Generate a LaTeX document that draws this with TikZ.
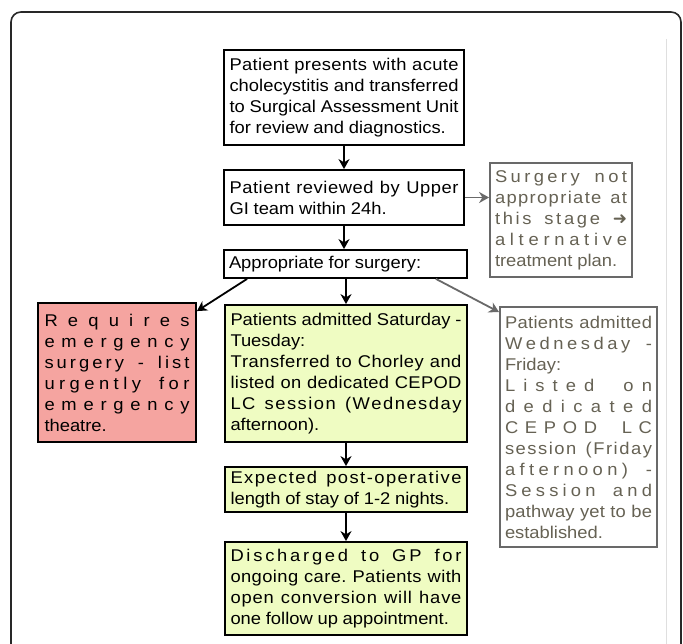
\documentclass[tikz,border=0pt]{standalone}
\usepackage{fontspec}
\setmainfont{Liberation Sans}[FakeStretch=1.08]
\newfontfamily\dejavu{DejaVu Sans}
\usetikzlibrary{arrows.meta,calc}
\definecolor{redfill}{RGB}{245,164,160}
\definecolor{greenfill}{RGB}{239,252,194}
\definecolor{greyline}{RGB}{105,105,105}
\definecolor{greytext}{RGB}{102,98,84}
\definecolor{frameline}{RGB}{40,40,40}
\newcommand{\rarr}{{\dejavu ➜}}
\makeatletter
\def\lsword#1{\let\ls@first\relax\@tfor\ls@c:=#1\do{\ifx\ls@first\@empty\hspace{0pt plus 1fil}\fi\let\ls@first\@empty\ls@c}}
\def\xl@words#1 #2\@nil{\lsword{#1}\ifx\relax#2\relax\else\hspace{0.28em plus 3fil minus 0.06em}\xl@words#2\@nil\fi}
\newcommand{\xline}[1]{\hbox to\hsize{\xl@words#1 \@nil}}
\makeatother
\newcommand{\lline}[1]{\hbox to\hsize{\spaceskip=0.28em\relax #1\hfil}}
\tikzset{
  box/.style={draw=black, line width=1.8pt, inner sep=0pt, font=\fontsize{17}{21}\selectfont},
  greybox/.style={draw=greyline, line width=1.8pt, inner sep=0pt, text=greytext, font=\fontsize{17}{21}\selectfont},
  arr/.style={draw=black, line width=1.8pt, -{Stealth[length=10pt,width=11pt]}},
  garr/.style={draw=greyline, line width=1.8pt, -{Stealth[length=10pt,width=11pt]}},
}
\begin{document}
\begin{tikzpicture}[x=1pt,y=-1pt]
\useasboundingbox (0,0) rectangle (683,644);
\clip (0,0) rectangle (683,644);
\fill[white] (0,0) rectangle (683,644);
\draw[frameline, line width=1.6pt, rounded corners=10pt] (11,700) -- (11,12) -- (681,12) -- (681,700);
\draw[gray!25, line width=0.8pt] (666,39) -- (666,644);

\node[box, minimum width=240pt, minimum height=95pt, text width=229pt] (b1) at (344,97.5) {%
\xline{Patient presents with acute}
\xline{cholecystitis and transferred}
\xline{to Surgical Assessment Unit}
\lline{for review and diagnostics.}};

\node[box, minimum width=240pt, minimum height=55pt, text width=229pt] (b2) at (344,197.5) {%
\xline{Patient reviewed by Upper}
\lline{GI team within 24h.}};

\node[box, minimum width=243pt, minimum height=28pt, text width=233pt] (b3) at (345.5,264) {%
\lline{Appropriate for surgery:}};

\node[greybox, minimum width=142pt, minimum height=114pt, text width=132pt] (ga) at (561,220) {%
\xline{Surgery not}
\xline{appropriate at}
\xline{this stage \rarr}
\xline{alternative}
\lline{treatment plan.}};

\node[box, fill=redfill, minimum width=158pt, minimum height=139pt, text width=145pt] (red) at (117,372.5) {%
\xline{Requires}
\xline{emergency}
\xline{surgery - list}
\xline{urgently for}
\xline{emergency}
\lline{theatre.}};

\node[box, fill=greenfill, minimum width=242pt, minimum height=137pt, text width=231pt] (g1) at (346,373.5) {%
\xline{Patients admitted Saturday -}
\lline{Tuesday:}
\xline{Transferred to Chorley and}
\xline{listed on dedicated CEPOD}
\xline{LC session (Wednesday}
\lline{afternoon).}};

\node[box, fill=greenfill, minimum width=242pt, minimum height=45pt, text width=231pt] (g2) at (346,489.5) {%
\xline{Expected post-operative}
\lline{length of stay of 1-2 nights.}};

\node[box, fill=greenfill, minimum width=242pt, minimum height=93pt, text width=231pt] (g3) at (346,588.5) {%
\xline{Discharged to GP for}
\xline{ongoing care. Patients with}
\xline{open conversion will have}
\lline{one follow up appointment.}};

\node[greybox, minimum width=157pt, minimum height=240pt, text width=147pt] (gb) at (578.5,427) {%
\xline{Patients admitted}
\xline{Wednesday -}
\lline{Friday:}
\xline{Listed on}
\xline{dedicated}
\xline{CEPOD LC}
\xline{session (Friday}
\xline{afternoon) -}
\xline{Session and}
\xline{pathway yet to be}
\lline{established.}};

\draw[arr] (b1.south) -- (b2.north);
\draw[arr] (b2.south) -- (b2.south |- b3.north);
\draw[arr] (b3.south -| g1.north) -- (g1.north);
\draw[arr] ($(b3.south west)+(24,0)$) -- ($(red.north east)+(0,9)$);
\draw[garr] ($(b3.south east)+(-32,0)$) -- ($(gb.north west)+(0,6)$);
\draw[garr] (b2.east) -- (b2.east -| ga.west);
\draw[arr] (g1.south) -- (g2.north);
\draw[arr] (g2.south) -- (g3.north);
\end{tikzpicture}
\end{document}
